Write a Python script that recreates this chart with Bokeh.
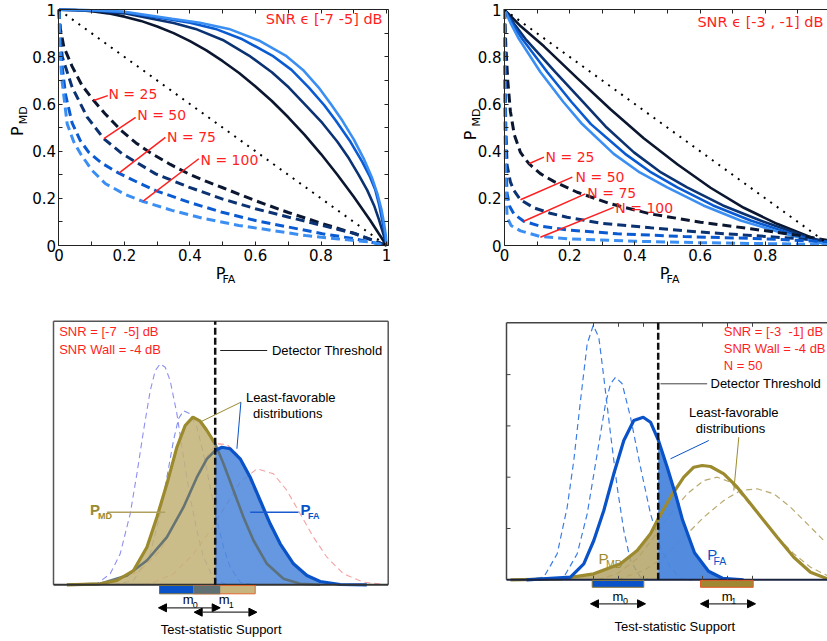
import numpy as np
from bokeh.plotting import figure
from bokeh.models import (Range1d, LinearAxis, FixedTicker, Label, Arrow,
                          NormalHead, CustomJSTickFormatter)
from bokeh.layouts import row, column
from bokeh.embed import file_html
from bokeh.resources import INLINE

# ------------------------------------------------------------------ data
roc_major = [0, 0.2, 0.4, 0.6, 0.8, 1.0]
roc_minor = [0.1, 0.3, 0.5, 0.7, 0.9]
roc_all = [0, 0.1, 0.2, 0.3, 0.4, 0.5, 0.6, 0.7, 0.8, 0.9, 1.0]
n_labels = ["N = 25", "N = 50", "N = 75", "N = 100"]
diag_x = [0, 1]
diag_y = [1, 0]

# top-left: SNR in [-7,-5] dB  (solid = one family, dashed = other family)
tl_solid_x_n25 = [0, 0.05, 0.1, 0.15, 0.2, 0.25, 0.3, 0.35, 0.4, 0.45, 0.5, 0.55, 0.6, 0.65,
                  0.7, 0.75, 0.8, 0.85, 0.9, 0.95, 1.0]
tl_solid_y_n25 = [1, 0.999, 0.994, 0.985, 0.971, 0.953, 0.929, 0.901, 0.867, 0.828, 0.782,
                  0.732, 0.675, 0.613, 0.544, 0.469, 0.388, 0.300, 0.207, 0.107, 0]
tl_solid_x_n50 = [0, 0.1, 0.2, 0.284, 0.35, 0.417, 0.5, 0.58, 0.65, 0.702, 0.75, 0.804, 0.85,
                  0.885, 0.915, 0.941, 0.962, 0.977, 0.99, 1.0]
tl_solid_y_n50 = [1, 0.996, 0.985, 0.962, 0.944, 0.919, 0.872, 0.806, 0.735, 0.67, 0.60, 0.52,
                  0.44, 0.37, 0.30, 0.235, 0.17, 0.11, 0.05, 0]
tl_solid_x_n75 = [0, 0.1, 0.2, 0.325, 0.4, 0.478, 0.56, 0.651, 0.71, 0.763, 0.81, 0.845, 0.89,
                  0.926, 0.95, 0.966, 0.978, 0.987, 0.995, 1.0]
tl_solid_y_n75 = [1, 0.998, 0.99, 0.962, 0.945, 0.919, 0.875, 0.806, 0.745, 0.67, 0.595, 0.53,
                  0.44, 0.355, 0.29, 0.235, 0.17, 0.106, 0.05, 0]
tl_solid_x_n100 = [0, 0.1, 0.2, 0.345, 0.43, 0.519, 0.61, 0.692, 0.745, 0.793, 0.83, 0.865, 0.9,
                   0.93, 0.955, 0.972, 0.985, 0.993, 0.998, 1.0]
tl_solid_y_n100 = [1, 0.998, 0.992, 0.962, 0.945, 0.919, 0.87, 0.806, 0.745, 0.67, 0.60, 0.53,
                   0.45, 0.37, 0.29, 0.22, 0.15, 0.09, 0.04, 0]

tl_dash_x_n25 = [0, 0.004, 0.015, 0.04, 0.07, 0.106, 0.14, 0.19, 0.235, 0.284, 0.34, 0.396,
                 0.45, 0.5, 0.6, 0.7, 0.8, 0.9, 1.0]
tl_dash_y_n25 = [1, 0.92, 0.842, 0.76, 0.68, 0.615, 0.56, 0.488, 0.435, 0.389, 0.344, 0.304,
                 0.272, 0.245, 0.19, 0.14, 0.095, 0.052, 0]
tl_dash_x_n50 = [0, 0.003, 0.01, 0.04, 0.086, 0.137, 0.193, 0.295, 0.396, 0.498, 0.60, 0.702,
                 0.804, 0.905, 1.0]
tl_dash_y_n50 = [1, 0.90, 0.80, 0.672, 0.545, 0.453, 0.389, 0.304, 0.248, 0.198, 0.156, 0.12,
                 0.085, 0.05, 0]
tl_dash_x_n75 = [0, 0.003, 0.008, 0.02, 0.04, 0.065, 0.091, 0.13, 0.181, 0.24, 0.295, 0.396,
                 0.498, 0.6, 0.702, 0.804, 0.905, 1.0]
tl_dash_y_n75 = [1, 0.88, 0.78, 0.64, 0.52, 0.445, 0.395, 0.35, 0.308, 0.268, 0.233, 0.184,
                 0.141, 0.106, 0.078, 0.05, 0.028, 0]
tl_dash_x_n100 = [0, 0.002, 0.008, 0.025, 0.045, 0.066, 0.1, 0.142, 0.2, 0.254, 0.345, 0.447,
                  0.549, 0.651, 0.753, 0.854, 0.956, 1.0]
tl_dash_y_n100 = [1, 0.85, 0.714, 0.516, 0.44, 0.389, 0.32, 0.262, 0.218, 0.188, 0.149, 0.113,
                  0.085, 0.064, 0.042, 0.028, 0.014, 0]

# top-right: SNR in [-3,-1] dB
tr_solid_x_n25 = [0, 0.05, 0.121, 0.223, 0.325, 0.427, 0.53, 0.632, 0.734, 0.836, 0.939, 1.0]
tr_solid_y_n25 = [1, 0.93, 0.845, 0.71, 0.578, 0.455, 0.345, 0.245, 0.16, 0.092, 0.035, 0]
tr_solid_x_n50 = [0, 0.03, 0.064, 0.156, 0.24, 0.31, 0.397, 0.48, 0.56, 0.67, 0.785, 0.9, 1.0]
tr_solid_y_n50 = [1, 0.94, 0.877, 0.736, 0.61, 0.505, 0.395, 0.31, 0.247, 0.17, 0.106, 0.05, 0]
tr_solid_x_n75 = [0, 0.025, 0.054, 0.131, 0.205, 0.265, 0.37, 0.45, 0.53, 0.64, 0.755, 0.88, 1.0]
tr_solid_y_n75 = [1, 0.94, 0.877, 0.736, 0.61, 0.515, 0.389, 0.31, 0.247, 0.17, 0.106, 0.05, 0]
tr_solid_x_n100 = [0, 0.02, 0.044, 0.11, 0.18, 0.235, 0.335, 0.415, 0.499, 0.61, 0.724, 0.86, 1.0]
tr_solid_y_n100 = [1, 0.94, 0.877, 0.736, 0.61, 0.52, 0.389, 0.31, 0.247, 0.17, 0.106, 0.05, 0]

tr_dash_x_n25 = [0, 0.004, 0.01, 0.018, 0.03, 0.049, 0.075, 0.11, 0.151, 0.223, 0.325, 0.448,
                 0.601, 0.755, 0.908, 1.0]
tr_dash_y_n25 = [1, 0.85, 0.70, 0.57, 0.47, 0.395, 0.347, 0.305, 0.272, 0.226, 0.177, 0.134,
                 0.099, 0.071, 0.042, 0.02]
tr_dash_x_n50 = [0, 0.002, 0.004, 0.008, 0.018, 0.029, 0.049, 0.09, 0.14, 0.192, 0.294, 0.448,
                 0.601, 0.806, 1.0]
tr_dash_y_n50 = [1, 0.70, 0.50, 0.34, 0.27, 0.233, 0.194, 0.16, 0.137, 0.12, 0.095, 0.075,
                 0.057, 0.038, 0.02]
tr_dash_x_n75 = [0, 0.002, 0.004, 0.008, 0.016, 0.029, 0.059, 0.11, 0.192, 0.346, 0.55, 0.806, 1.0]
tr_dash_y_n75 = [1, 0.60, 0.35, 0.22, 0.165, 0.134, 0.103, 0.082, 0.066, 0.05, 0.038, 0.028, 0.015]
tr_dash_x_n100 = [0, 0.001, 0.003, 0.008, 0.02, 0.049, 0.11, 0.2, 0.4, 0.6, 0.8, 1.0]
tr_dash_y_n100 = [1, 0.60, 0.30, 0.12, 0.085, 0.062, 0.038, 0.028, 0.018, 0.012, 0.008, 0.004]

# bottom-left: test-statistic densities, SNR [-7 -5] dB
bl_threshold = 161.7
bl_pmd_x = [13.4, 46.7, 63.4, 80, 93.4, 103.4, 113.4, 123.4, 131.7, 139.4, 146.7, 153.4, 161.7,
            170, 180, 190, 200, 213.4, 230, 246.7, 266.7]
bl_pmd_y = [0, 1, 4.3, 14.3, 37.6, 67.6, 101, 137.6, 159.3, 167.6, 163.6, 154.3, 141,
            121, 94.3, 67.6, 44.3, 21, 6, 1, 0]
bl_pfa_x = [13.4, 46.7, 73.4, 93.4, 113.4, 130, 143.4, 153.4, 161.7, 168.4, 176.7, 186.7, 196.7,
            206.7, 216.7, 226.7, 240, 253.4, 266.7, 286.7, 313.3]
bl_pfa_y = [0, 1, 9.3, 24.3, 47.6, 77.6, 107.6, 126, 134.3, 137.6, 136, 126, 107.6,
            84.3, 61, 41, 21, 9.3, 3.3, 0.3, 0]
bl_alt_a_x = [20, 43.4, 56.7, 66.7, 76.7, 83.4, 90, 96.7, 101.7, 106.7, 111.7, 116.7, 123.4, 130,
              136.7, 143.4, 150, 160, 173.4]
bl_alt_a_y = [0, 1, 11, 31, 71, 111, 154, 194, 214, 221, 217.6, 204, 171, 127.6,
              87.6, 54.3, 27.6, 6, 0]
bl_alt_b_x = [60, 80, 96.7, 106.7, 113.4, 120, 125, 130, 136.7, 143.4, 150, 156.7, 163.4, 170,
              176.7, 186.7, 200]
bl_alt_b_y = [0, 4.3, 31, 71, 107.6, 144.3, 166, 174, 171, 157.6, 131, 97.6, 64.3, 37.6,
              17.6, 2.6, 0]
bl_alt_c_x = [80, 96.7, 120, 140, 156.7, 173.4, 186.7, 203.4, 220, 233.4, 246.7, 260, 273.4,
              290, 310, 333.4]
bl_alt_c_y = [0, 1, 11, 31, 54.3, 81, 102.6, 116, 111, 94.3, 71, 47.6, 27.6, 11, 2.6, 0]
bl_alt_d_x = [40, 56.7, 86.7, 106.7, 126.7, 143.4, 155, 163.4, 173.4, 183.4, 193.4, 205, 216.7,
              230, 246.7, 266.7, 290]
bl_alt_d_y = [0, 1, 14.3, 34.3, 71, 107.6, 131, 141, 140.3, 131, 111, 84.3, 57.6, 34.3,
              12.6, 2.6, 0]
bl_m0_support = [106, 166.7]
bl_m1_support = [140, 201.7]

# bottom-right: SNR [-3 -1] dB, N = 50
br_threshold = 151.7
br_pfa_x = [20, 64, 77.3, 87.3, 97.3, 107.3, 117.3, 127.3, 136.7, 144, 151.7, 160.7, 170, 176,
            188, 202, 216, 237]
br_pfa_y = [0, 2.6, 16, 39.3, 69.3, 106, 139.3, 159.3, 162.6, 157.6, 140, 112.6, 82, 60,
            27, 8.5, 1.5, 0]
br_pmd_x = [4, 54, 87.3, 114, 130.7, 144, 151.7, 164, 177.3, 187.3, 195.7, 204, 217.3, 230.7,
            244, 257.3, 270.7, 287.3, 304, 320.7]
br_pmd_y = [0, 1, 6, 16, 29.3, 46, 61, 82.6, 102.6, 112.6, 114.3, 113.3, 106, 92.6,
            76, 59.3, 42.6, 22.6, 7.6, 1]
br_alt_a_x = [20, 37.3, 50.7, 60.7, 67.3, 74, 80.7, 86.7, 92.3, 97.3, 104, 110.7, 117.3, 124,
              134, 144]
br_alt_a_y = [0, 2.6, 26, 72.6, 119.3, 179.3, 236, 254.3, 242.6, 202.6, 146, 92.6, 49.3,
              19.3, 2.6, 0]
br_alt_b_x = [40, 57.3, 70.7, 80.7, 90.7, 99, 104, 109, 115.7, 124, 134, 144, 154, 164, 174, 185]
br_alt_b_y = [0, 2.6, 26, 66, 126, 176, 196, 202.6, 196, 162.6, 112.6, 66, 32.6, 12.6, 1, 0]
br_alt_c_x = [90.7, 110.7, 130.7, 147.3, 164, 180.7, 197.3, 210.7, 224, 237.3, 254, 270.7,
              287.3, 304, 320.7]
br_alt_c_y = [0, 6, 21, 42.6, 66, 86, 99.3, 102.6, 97.6, 82.6, 62.6, 42.6, 26, 12.6, 4.3]
br_alt_d_x = [110.7, 137.3, 157.3, 177.3, 197.3, 217.3, 234, 250.7, 267.3, 284, 300.7, 317.3]
br_alt_d_y = [0, 9.3, 22.6, 42.6, 62.6, 79.3, 89.3, 91, 86, 72.6, 56, 39.3]
br_m0_support = [85.7, 137.3]
br_m1_support = [194, 246.7]
br_tick_x = [87, 112, 137, 196, 221, 246]
br_tick_y = [51.3, 102.6, 153.9, 205.2]

# ------------------------------------------------------------------ style
shades = ["#0b1730", "#0b3272", "#0a5ad2", "#3b8ff3"]
RED = "#ff1f1f"
TOPFONT = "DejaVu Sans"
BOTFONT = "Liberation Sans"
OLIVE = "#9c8a2e"
TAN = "#c2b276"
BLUE = "#0a52c8"
BLUEFILL = "#4a86dc"
SLATE = "#5b6d70"


def label(p, x, y, text, size, color="black", font=BOTFONT, align="left",
          baseline="middle", angle=0, style="normal"):
    p.add_layout(Label(x=x, y=y, text=text, text_font_size=size, text_color=color,
                       text_font=font, text_align=align, text_baseline=baseline,
                       angle=angle, text_font_style=style))


def roc_axis(p, side, loc, bounds, labels):
    if labels:
        ax = LinearAxis(fixed_location=loc, bounds=bounds,
                        ticker=FixedTicker(ticks=roc_major, minor_ticks=roc_minor),
                        formatter=CustomJSTickFormatter(code="return String(tick)"),
                        major_label_text_font=TOPFONT, major_label_text_font_size="15px",
                        major_label_text_color="black", major_label_standoff=3)
    else:
        ax = LinearAxis(fixed_location=loc, bounds=bounds,
                        ticker=FixedTicker(ticks=[], minor_ticks=roc_all))
    ax.major_tick_in = 4
    ax.major_tick_out = 0
    ax.minor_tick_in = 4
    ax.minor_tick_out = 0
    ax.axis_line_color = "#222"
    ax.major_tick_line_color = "#222"
    ax.minor_tick_line_color = "#222"
    p.add_layout(ax, side)


def roc_fig(width, xr, x_right, box):
    p = figure(width=width, height=290, x_range=Range1d(*xr), y_range=Range1d(-0.1909, 1.0395),
               output_backend="svg", toolbar_location=None,
               x_axis_location=None, y_axis_location=None, min_border=0)
    p.grid.visible = False
    p.outline_line_color = None
    roc_axis(p, "below", 0, (0, x_right), True)
    roc_axis(p, "left", 0, (0, 1), True)
    roc_axis(p, "above", 1, (0, x_right), False)
    if box:
        roc_axis(p, "right", x_right, (0, 1), False)
    return p


def draw_roc(p, sxs, sys_, dxs, dys, title, tx, ty, nl, ptr, axlab):
    for sx, sy, c in zip(sxs, sys_, shades):
        p.line(sx, sy, line_color=c, line_width=2.6)
    for dx, dy, c in zip(dxs, dys, shades):
        p.line(dx, dy, line_color=c, line_width=3, line_dash="9 5")
    p.line(diag_x, diag_y, line_color="black", line_width=2, line_dash="2 6")
    label(p, tx, ty, title, "14.5px", RED, TOPFONT, align="right")
    for (t, (x, y)) in zip(n_labels, nl):
        label(p, x, y, t, "14px", RED, TOPFONT)
    p.segment(x0=ptr[0], y0=ptr[1], x1=ptr[2], y1=ptr[3], line_color=RED, line_width=1.5)
    (px, py, mx, my, fx, fy, sx_, sy_) = axlab
    label(p, px, py, "P", "16px", "black", TOPFONT, align="center", angle=np.pi / 2)
    label(p, mx, my, "MD", "11px", "black", TOPFONT, align="center", angle=np.pi / 2)
    label(p, fx, fy, "P", "16px", "black", TOPFONT, align="center")
    label(p, sx_, sy_, "FA", "11px", "black", TOPFONT, align="center")


# ------------------------------------------------------------------ top-left
p1 = roc_fig(418, (-0.1786, 1.0977), 1.006, True)
draw_roc(p1,
         [tl_solid_x_n25, tl_solid_x_n50, tl_solid_x_n75, tl_solid_x_n100],
         [tl_solid_y_n25, tl_solid_y_n50, tl_solid_y_n75, tl_solid_y_n100],
         [tl_dash_x_n25, tl_dash_x_n50, tl_dash_x_n75, tl_dash_x_n100],
         [tl_dash_y_n25, tl_dash_y_n50, tl_dash_y_n75, tl_dash_y_n100],
         "SNR \u03f5 [-7 -5] dB", 0.988, 0.962,
         [(0.151, 0.641), (0.239, 0.552), (0.33, 0.459), (0.432, 0.361)],
         ([0.106, 0.137, 0.183, 0.257], [0.615, 0.453, 0.307, 0.188],
          [0.149, 0.234, 0.325, 0.427], [0.636, 0.544, 0.459, 0.368]),
         (-0.128, 0.485, -0.109, 0.553, 0.493, -0.117, 0.519, -0.146))

# ------------------------------------------------------------------ top-right
p2 = roc_fig(409, (-0.2638, 0.9908), 0.9908, False)
draw_roc(p2,
         [tr_solid_x_n25, tr_solid_x_n50, tr_solid_x_n75, tr_solid_x_n100],
         [tr_solid_y_n25, tr_solid_y_n50, tr_solid_y_n75, tr_solid_y_n100],
         [tr_dash_x_n25, tr_dash_x_n50, tr_dash_x_n75, tr_dash_x_n100],
         [tr_dash_y_n25, tr_dash_y_n50, tr_dash_y_n75, tr_dash_y_n100],
         "SNR \u03f5 [-3 , -1] dB", 0.9785, 0.95,
         [(0.126, 0.375), (0.218, 0.29), (0.254, 0.222), (0.34, 0.16)],
         ([0.075, 0.049, 0.059, 0.11], [0.347, 0.194, 0.103, 0.035],
          [0.121, 0.208, 0.248, 0.335], [0.375, 0.29, 0.219, 0.162]),
         (-0.104, 0.467, -0.086, 0.543, 0.491, -0.117, 0.517, -0.146))


# ------------------------------------------------------------------ bottom helpers
def dens_fig(width, xr, yr):
    p = figure(width=width, height=351, x_range=Range1d(*xr), y_range=Range1d(*yr),
               output_backend="svg", toolbar_location=None,
               x_axis_location=None, y_axis_location=None, min_border=0)
    p.grid.visible = False
    p.outline_line_color = None
    return p


def arrow(p, x0, x1, y):
    p.add_layout(Arrow(x_start=x0, x_end=x1, y_start=y, y_end=y, line_color="#333",
                       line_width=1.3,
                       start=NormalHead(size=8, fill_color="black", line_color="black"),
                       end=NormalHead(size=8, fill_color="black", line_color="black")))


# ------------------------------------------------------------------ bottom-left
p3 = dens_fig(418, (-53, 365), (-56.7, 294.3))
for ax_, ay_, c in [(bl_alt_a_x, bl_alt_a_y, "#8f8ff2"), (bl_alt_b_x, bl_alt_b_y, "#7f8ff0"),
                    (bl_alt_c_x, bl_alt_c_y, "#f4a3a3"), (bl_alt_d_x, bl_alt_d_y, "#f09090")]:
    p3.line(ax_, ay_, line_color=c, line_width=1.1, line_dash="6 4")
ox, oy = np.array(bl_pmd_x), np.array(bl_pmd_y)
bx, by = np.array(bl_pfa_x), np.array(bl_pfa_y)
mo = ox <= bl_threshold
mb = bx >= bl_threshold
p3.varea(x=ox[mo], y1=0, y2=oy[mo], fill_color=TAN, fill_alpha=0.85)
p3.varea(x=bx[mb], y1=0, y2=by[mb], fill_color=BLUEFILL, fill_alpha=0.85)
p3.line(bx[bx <= bl_threshold], by[bx <= bl_threshold],
        line_color=SLATE, line_width=2.6, line_alpha=0.9)
p3.line(ox[ox >= bl_threshold], oy[ox >= bl_threshold],
        line_color=SLATE, line_width=2.6, line_alpha=0.9)
p3.line(ox[mo], oy[mo], line_color=OLIVE, line_width=3.2)
p3.line(bx[mb], by[mb], line_color=BLUE, line_width=3.2)
# box and baseline
p3.segment(x0=[0, 334.7, 0], y0=[0, 0, 263.6], x1=[0, 334.7, 334.7], y1=[263.6, 263.6, 263.6],
           line_color="#555", line_width=1.5)
p3.segment(x0=[0], y0=[0], x1=[334.7], y1=[0], line_color="#333", line_width=2)
p3.segment(x0=[bl_threshold], y0=[0], x1=[bl_threshold], y1=[263.6], line_color="#111",
           line_width=2.5, line_dash="7 3")
# support strips
p3.quad(left=[bl_m0_support[0]], right=[bl_m0_support[1]], top=[-0.7], bottom=[-9],
        fill_color=BLUE, line_color="#7a6c30", line_width=1)
p3.quad(left=[bl_m1_support[0]], right=[bl_m1_support[1]], top=[-0.7], bottom=[-9],
        fill_color="#c8b57e", line_color="#e0642e", line_width=1)
p3.quad(left=[bl_m1_support[0]], right=[bl_m0_support[1]], top=[-0.7], bottom=[-9],
        fill_color="#5e7071", line_color=None)
# annotations
label(p3, 5.7, 253.3, "SNR = [-7\u00a0 -5] dB", "13px", RED)
label(p3, 5.7, 235, "SNR Wall = -4 dB", "13px", RED)
label(p3, 218.4, 234.3, "Detector Threshold", "13px")
p3.segment(x0=[166.7], y0=[234.3], x1=[213.7], y1=[234.3], line_color="#222", line_width=1)
label(p3, 237.2, 187.6, "Least-favorable", "13px", align="center")
label(p3, 234.2, 171, "distributions", "13px", align="center")
p3.segment(x0=[187.4, 187.4], y0=[182.6, 182.6], x1=[148.4, 183.4], y1=[163.6, 136],
           line_color=[OLIVE, BLUE], line_width=1)
label(p3, 36.5, 75.3, "P", "15px", OLIVE, style="bold")
label(p3, 44.5, 69.3, "MD", "9px", OLIVE, style="bold")
p3.segment(x0=[53.4], y0=[72.6], x1=[111.7], y1=[72.6], line_color="#b0a060", line_width=1.5)
label(p3, 247, 75.3, "P", "15px", BLUE, style="bold")
label(p3, 254.5, 69.3, "FA", "9px", BLUE, style="bold")
p3.segment(x0=[196.7], y0=[72.6], x1=[245], y1=[72.6], line_color="#1a5ad0", line_width=1.5)
label(p3, 134.7, -14.7, "m", "13px", align="center")
label(p3, 141.7, -20.2, "0", "9px", align="center")
label(p3, 170.7, -14.7, "m", "13px", align="center")
label(p3, 177.7, -20.2, "1", "9px", align="center")
arrow(p3, 105, 166.7, -23)
arrow(p3, 140.7, 203.4, -27.4)
label(p3, 167.7, -44.7, "Test-statistic Support", "13px", align="center")

# ------------------------------------------------------------------ bottom-right
p4 = dens_fig(409, (-88, 321), (-61.7, 289.3))
for ax_, ay_, c in [(br_alt_a_x, br_alt_a_y, "#3c7ee6"), (br_alt_b_x, br_alt_b_y, "#3c7ee6"),
                    (br_alt_c_x, br_alt_c_y, "#b9a970"), (br_alt_d_x, br_alt_d_y, "#b9a970")]:
    p4.line(ax_, ay_, line_color=c, line_width=1.2, line_dash="6 4")
ox, oy = np.array(br_pmd_x), np.array(br_pmd_y)
bx, by = np.array(br_pfa_x), np.array(br_pfa_y)
mo = ox <= br_threshold
mb = bx >= br_threshold
p4.varea(x=ox[mo], y1=0, y2=oy[mo], fill_color="#b4a366", fill_alpha=0.85)
p4.varea(x=bx[mb], y1=0, y2=by[mb], fill_color=BLUEFILL, fill_alpha=0.95)
p4.line(ox, oy, line_color=OLIVE, line_width=3.2)
p4.line(bx, by, line_color=BLUE, line_width=3.2)
# frame pieces
p4.segment(x0=[0, 0], y0=[0, 257], x1=[0, 321], y1=[257, 257],
           line_color="#444", line_width=1.5)
p4.segment(x0=[0], y0=[0], x1=[321], y1=[0], line_color="#1a2340", line_width=2)
p4.segment(x0=[0] * len(br_tick_y), y0=br_tick_y, x1=[4] * len(br_tick_y), y1=br_tick_y,
           line_color="#444", line_width=1)
p4.segment(x0=br_tick_x, y0=[257] * len(br_tick_x), x1=br_tick_x, y1=[253] * len(br_tick_x),
           line_color="#444", line_width=1)
p4.segment(x0=br_tick_x, y0=[0] * len(br_tick_x), x1=br_tick_x, y1=[4] * len(br_tick_x),
           line_color="#444", line_width=1)
p4.segment(x0=[br_threshold], y0=[0], x1=[br_threshold], y1=[257], line_color="#111",
           line_width=2.5, line_dash="7 3")
p4.quad(left=[br_m0_support[0]], right=[br_m0_support[1]], top=[-0.6], bottom=[-7.5],
        fill_color=BLUE, line_color="#8a7a38", line_width=1)
p4.quad(left=[br_m1_support[0]], right=[br_m1_support[1]], top=[-0.6], bottom=[-7.5],
        fill_color="#a08832", line_color="#e05a2a", line_width=1)
label(p4, 217.3, 248.3, "SNR = [-3\u00a0 -1] dB", "13px", RED)
label(p4, 217.3, 231, "SNR Wall = -4 dB", "13px", RED)
label(p4, 217.3, 214.3, "N = 50", "13px", RED)
label(p4, 204, 196, "Detector Threshold", "13px")
p4.segment(x0=[154], y0=[196], x1=[200.7], y1=[196], line_color="#444", line_width=1)
label(p4, 227.3, 167.6, "Least-favorable", "13px", align="center")
label(p4, 224, 151, "distributions", "13px", align="center")
p4.segment(x0=[202.3, 232.3], y0=[139.3, 142.6], x1=[164, 227.3], y1=[121, 89.3],
           line_color=[BLUE, OLIVE], line_width=1)
label(p4, 92, 21.5, "P", "15px", OLIVE)
label(p4, 99.5, 16, "MD", "10.5px", OLIVE)
label(p4, 200.7, 25, "P", "15px", BLUE)
label(p4, 207, 19, "FA", "10.5px", BLUE)
label(p4, 111.5, -16.5, "m", "13px", align="center")
label(p4, 119, -20.7, "0", "9px", align="center")
label(p4, 220.7, -16.5, "m", "13px", align="center")
label(p4, 227.3, -20.7, "1", "9px", align="center")
arrow(p4, 84, 139, -24)
arrow(p4, 194, 249, -24)
label(p4, 168.3, -46.7, "Test-statistic Support", "13px", align="center")

layout = column(row(p1, p2), row(p3, p4))
open("out.html", "w").write(file_html(layout, INLINE))
